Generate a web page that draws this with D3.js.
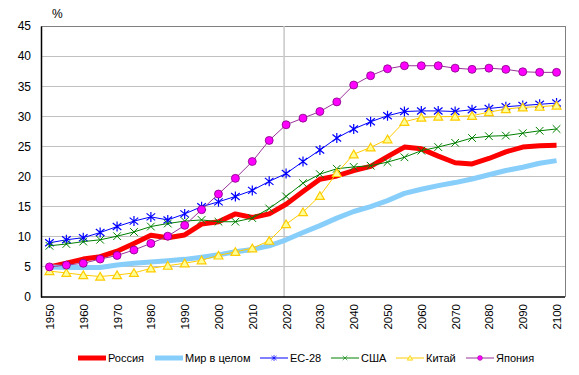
<!DOCTYPE html>
<html>
<head>
<meta charset="utf-8">
<script src="https://cdn.jsdelivr.net/npm/d3@7"></script>
<style>
  body { margin: 0; background: #fff; }
  text { font-family: "Liberation Sans", Arial, sans-serif; fill: #000; }
</style>
</head>
<body>
<div id="chart"></div>
<script>
// годы (шаг 5 лет)
const years = [1950, 1955, 1960, 1965, 1970, 1975, 1980, 1985, 1990, 1995,
  2000, 2005, 2010, 2015, 2020, 2025, 2030, 2035, 2040, 2045,
  2050, 2055, 2060, 2065, 2070, 2075, 2080, 2085, 2090, 2095, 2100];
const yearLabels = [1950, 1960, 1970, 1980, 1990, 2000, 2010, 2020, 2030, 2040, 2050, 2060, 2070, 2080, 2090, 2100];
const yTicks = [0, 5, 10, 15, 20, 25, 30, 35, 40, 45];

const russia = [5.0, 5.6, 6.3, 6.7, 7.6, 8.9, 10.25, 9.85, 10.3, 12.1,
  12.5, 13.8, 13.2, 13.8, 15.4, 17.5, 19.55, 20.1, 21.0, 21.7,
  23.3, 24.9, 24.6, 23.4, 22.3, 22.1, 23.0, 24.1, 24.9, 25.1, 25.2];
const world = [5.0, 4.9, 4.9, 4.9, 5.3, 5.6, 5.8, 6.0, 6.25, 6.6,
  7.0, 7.5, 7.9, 8.5, 9.5, 10.7, 11.85, 13.1, 14.2, 15.0,
  16.0, 17.2, 17.9, 18.5, 19.0, 19.6, 20.3, 21.0, 21.55, 22.2, 22.65];
const eu28 = [9.0, 9.5, 9.85, 10.7, 11.7, 12.6, 13.3, 12.8, 13.8, 15.0,
  15.8, 16.7, 17.7, 19.2, 20.5, 22.5, 24.4, 26.4, 27.9, 29.1,
  30.1, 30.8, 30.9, 30.9, 30.8, 31.1, 31.3, 31.6, 31.8, 32.0, 32.2];
const usa = [8.5, 8.8, 9.2, 9.5, 10.1, 10.8, 11.7, 12.2, 12.6, 12.8,
  12.5, 12.5, 13.1, 14.7, 16.7, 18.9, 20.4, 21.3, 21.6, 21.8,
  22.4, 23.2, 24.3, 24.9, 25.6, 26.4, 26.7, 26.8, 27.2, 27.6, 27.9];
const china = [4.3, 4.0, 3.65, 3.4, 3.65, 4.0, 4.75, 5.2, 5.6, 6.1,
  6.9, 7.5, 8.1, 9.35, 12.1, 14.1, 16.8, 20.6, 23.7, 24.85,
  26.2, 29.1, 29.8, 29.95, 29.95, 30.1, 30.7, 31.2, 31.5, 31.6, 31.8];
const japan = [5.0, 5.3, 5.6, 6.3, 6.9, 7.8, 8.9, 10.1, 11.9, 14.5,
  17.1, 19.7, 22.5, 26.0, 28.6, 29.7, 30.8, 32.4, 35.2, 36.75,
  37.9, 38.4, 38.4, 38.4, 38.0, 37.8, 38.0, 37.8, 37.4, 37.3, 37.3];

const series = [
  { name: "Россия", values: russia, color: "#ff0000", width: 5, marker: null },
  { name: "Мир в целом", values: world, color: "#87cefa", width: 5, marker: null },
  { name: "ЕС-28", values: eu28, color: "#0000ff", width: 1, marker: "star" },
  { name: "США", values: usa, color: "#008000", width: 1, marker: "x" },
  { name: "Китай", values: china, color: "#ffcc00", width: 1, marker: "tri" },
  { name: "Япония", values: japan, color: "#993399", width: 1, marker: "circle" }
];

const W = 579, H = 375;
const pLeft = 41, pRight = 565, pTop = 26, pBottom = 297;

const svg = d3.select("#chart").append("svg")
  .attr("width", W).attr("height", H);

const x = d3.scalePoint().domain(years).range([pLeft, pRight]).padding(0.5);
const y = d3.scaleLinear().domain([0, 45]).range([pBottom, pTop]);

// сетка
svg.append("g").selectAll("line")
  .data(yTicks.filter(d => d > 0))
  .enter().append("line")
  .attr("x1", pLeft).attr("x2", pRight)
  .attr("y1", d => y(d)).attr("y2", d => y(d))
  .attr("stroke", d => d === 45 ? "#808080" : "#c0c0c0")
  .attr("stroke-width", 1)
  .attr("shape-rendering", "crispEdges");

// правая рамка
svg.append("line")
  .attr("x1", pRight).attr("x2", pRight).attr("y1", pTop).attr("y2", pBottom)
  .attr("stroke", "#808080").attr("shape-rendering", "crispEdges");

// вертикальная линия 2020
svg.append("line")
  .attr("x1", x(2020) - 2).attr("x2", x(2020) - 2)
  .attr("y1", pTop).attr("y2", pBottom)
  .attr("stroke", "#c8c8c8").attr("stroke-width", 1.5);

// оси
const yAxis = svg.append("g")
  .attr("transform", `translate(${pLeft},0)`)
  .call(d3.axisLeft(y).tickValues(yTicks).tickSize(0).tickPadding(10));
yAxis.select(".domain").attr("stroke", "#000").attr("stroke-width", 1.5);
yAxis.selectAll("text").style("font-size", "12px")
  .style("font-family", "'Liberation Sans', Arial, sans-serif");

const xAxis = svg.append("g")
  .attr("transform", `translate(0,${pBottom})`)
  .call(d3.axisBottom(x).tickValues(yearLabels).tickSize(0).tickPadding(0));
xAxis.select(".domain").attr("stroke", "#000").attr("stroke-width", 1.5)
  .attr("d", `M${pLeft},0H${pRight}`);
xAxis.selectAll("text")
  .style("font-size", "11.5px")
  .style("font-family", "'Liberation Sans', Arial, sans-serif")
  .attr("text-anchor", "end")
  .attr("transform", "rotate(-90)")
  .attr("x", -7)
  .attr("y", 0)
  .attr("dy", "0.35em");

svg.append("text")
  .attr("x", 52).attr("y", 18)
  .style("font-size", "12px")
  .text("%");

// маркеры
function drawMarker(g, type, color) {
  if (type === "circle") {
    g.append("circle").attr("r", 4)
      .attr("fill", "#ff00ff").attr("stroke", "#800080").attr("stroke-width", 0.8);
  } else if (type === "star") {
    g.append("path").attr("d", "M0,-5V5M-4.3,-3.5L4.3,3.5M-4.3,3.5L4.3,-3.5")
      .attr("stroke", color).attr("stroke-width", 1.2).attr("fill", "none");
  } else if (type === "x") {
    g.append("path").attr("d", d3.symbol(d3.symbolTimes, 40)())
      .attr("stroke", color).attr("stroke-width", 1).attr("fill", "none");
  } else if (type === "tri") {
    g.append("path").attr("d", d3.symbol(d3.symbolTriangle, 34)())
      .attr("transform", "translate(0,1)")
      .attr("stroke", "#ffcc00").attr("stroke-width", 1.2).attr("fill", "#ffff99");
  }
}

const line = d3.line()
  .x((d, i) => x(years[i]))
  .y(d => y(d));

series.forEach(s => {
  svg.append("path")
    .datum(s.values)
    .attr("d", line)
    .attr("fill", "none")
    .attr("stroke", s.color)
    .attr("stroke-width", s.width)
    .attr("stroke-linejoin", "round");
  if (s.marker) {
    s.values.forEach((v, i) => {
      const g = svg.append("g")
        .attr("transform", `translate(${x(years[i])},${y(v)})`);
      drawMarker(g, s.marker, s.color);
    });
  }
});

// легенда
const legendPos = [78, 155, 260, 331, 396, 466];
series.forEach((s, i) => {
  const g = svg.append("g").attr("transform", `translate(${legendPos[i]},358)`);
  g.append("line").attr("x1", 0).attr("x2", 28)
    .attr("stroke", s.color).attr("stroke-width", s.width);
  if (s.marker) {
    const m = g.append("g").attr("transform", "translate(14,0) scale(0.6)");
    drawMarker(m, s.marker, s.color);
  }
  g.append("text").attr("x", 30).attr("y", 0).attr("dy", "0.35em")
    .style("font-size", "11px").text(s.name);
});
</script>
</body>
</html>
